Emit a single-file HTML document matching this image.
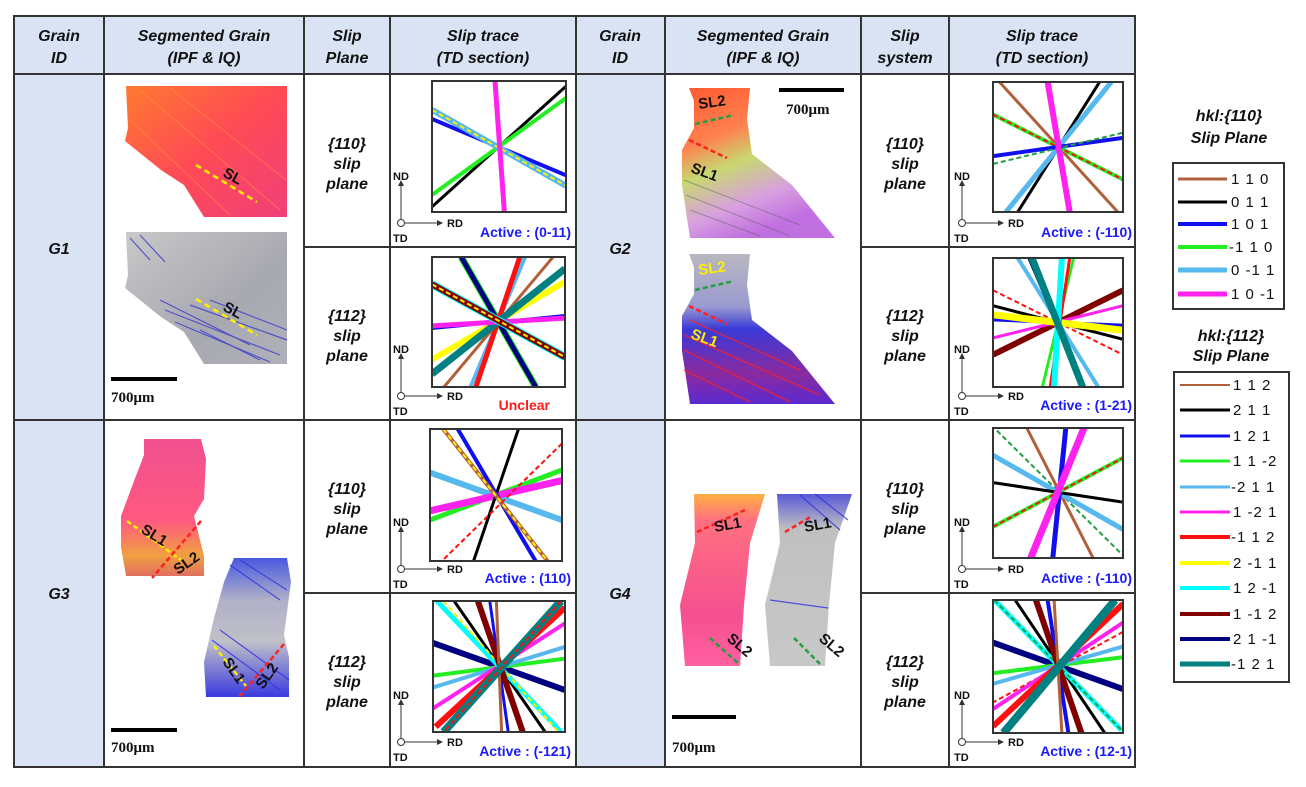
<!DOCTYPE html>
<html><head><meta charset="utf-8"><style>
html,body{margin:0;padding:0;background:#fff;}
svg text{font-family:"Liberation Sans",Arial,sans-serif;}
.h{font-weight:bold;font-style:italic;font-size:16px;text-anchor:middle;fill:#111;}
.p line{vector-effect:non-scaling-stroke;stroke-linecap:butt;}
.ax{font-size:11px;font-weight:bold;fill:#111;}
.act{font-size:14px;font-weight:bold;fill:#1a1aff;}
.lg{font-size:15px;fill:#111;letter-spacing:1px;}
.sb{font-family:"Liberation Serif",serif;font-weight:bold;font-size:15px;fill:#111;}
.sl{font-weight:bold;font-size:15px;fill:#111;}
</style></head><body>
<svg width="1306" height="782" viewBox="0 0 1306 782" xmlns="http://www.w3.org/2000/svg">
<defs>
<linearGradient id="ipf1" x1="0" y1="0" x2="1" y2="1"><stop offset="0" stop-color="#ff7a30"/><stop offset="0.5" stop-color="#ff4a55"/><stop offset="1" stop-color="#f0407a"/></linearGradient>
<linearGradient id="iq1" x1="0" y1="0" x2="1" y2="1"><stop offset="0" stop-color="#c8c8c8"/><stop offset="0.6" stop-color="#a8a8b0"/><stop offset="1" stop-color="#b0b0b8"/></linearGradient>
<linearGradient id="ipf2" x1="0" y1="0" x2="0.4" y2="1"><stop offset="0" stop-color="#ff5a30"/><stop offset="0.35" stop-color="#ff8050"/><stop offset="0.55" stop-color="#c8d870"/><stop offset="0.8" stop-color="#d8a0e0"/><stop offset="1" stop-color="#c070e0"/></linearGradient>
<linearGradient id="iq2" x1="0" y1="0" x2="0" y2="1"><stop offset="0" stop-color="#b8b8c0"/><stop offset="0.35" stop-color="#9a9ad0"/><stop offset="0.5" stop-color="#3a3ad8"/><stop offset="0.8" stop-color="#8a2aa0"/><stop offset="1" stop-color="#5a2ad0"/></linearGradient>
<linearGradient id="ipf3" x1="0" y1="0" x2="0" y2="1"><stop offset="0" stop-color="#f05090"/><stop offset="0.6" stop-color="#ff5a80"/><stop offset="0.85" stop-color="#f0a040"/><stop offset="1" stop-color="#e07060"/></linearGradient>
<linearGradient id="iq3" x1="0" y1="0" x2="0" y2="1"><stop offset="0" stop-color="#4a5ae0"/><stop offset="0.3" stop-color="#b0b0c8"/><stop offset="0.6" stop-color="#c0c0c8"/><stop offset="1" stop-color="#3a3ae0"/></linearGradient>
<linearGradient id="ipf4" x1="0" y1="0" x2="0" y2="1"><stop offset="0" stop-color="#ffb040"/><stop offset="0.15" stop-color="#ff7080"/><stop offset="0.7" stop-color="#f55090"/><stop offset="1" stop-color="#ff60a0"/></linearGradient>
<linearGradient id="iq4" x1="0" y1="0" x2="0" y2="1"><stop offset="0" stop-color="#5a5ad8"/><stop offset="0.2" stop-color="#c0c0c0"/><stop offset="1" stop-color="#c8c8c8"/></linearGradient>
</defs>

<rect x="14" y="16" width="1121" height="58" fill="#dae3f3"/>
<rect x="14" y="74" width="90" height="693" fill="#dae3f3"/>
<rect x="576" y="74" width="89" height="693" fill="#dae3f3"/>

<text class="h" x="59" y="41">Grain</text><text class="h" x="59" y="63">ID</text>
<text class="h" x="204" y="41">Segmented Grain</text><text class="h" x="204" y="63">(IPF &amp; IQ)</text>
<text class="h" x="347" y="41">Slip</text><text class="h" x="347" y="63">Plane</text>
<text class="h" x="483" y="41">Slip trace</text><text class="h" x="483" y="63">(TD section)</text>
<text class="h" x="620" y="41">Grain</text><text class="h" x="620" y="63">ID</text>
<text class="h" x="763" y="41">Segmented Grain</text><text class="h" x="763" y="63">(IPF &amp; IQ)</text>
<text class="h" x="905" y="41">Slip</text><text class="h" x="905" y="63">system</text>
<text class="h" x="1042" y="41">Slip trace</text><text class="h" x="1042" y="63">(TD section)</text>

<text class="h" x="59" y="254">G1</text><text class="h" x="59" y="599">G3</text>
<text class="h" x="620" y="254">G2</text><text class="h" x="620" y="599">G4</text>

<g class="h">
<text x="347" y="149">{110}</text><text x="347" y="169">slip</text><text x="347" y="189">plane</text>
<text x="347" y="321">{112}</text><text x="347" y="341">slip</text><text x="347" y="361">plane</text>
<text x="347" y="494">{110}</text><text x="347" y="514">slip</text><text x="347" y="534">plane</text>
<text x="347" y="667">{112}</text><text x="347" y="687">slip</text><text x="347" y="707">plane</text>
<text x="905" y="149">{110}</text><text x="905" y="169">slip</text><text x="905" y="189">plane</text>
<text x="905" y="321">{112}</text><text x="905" y="341">slip</text><text x="905" y="361">plane</text>
<text x="905" y="494">{110}</text><text x="905" y="514">slip</text><text x="905" y="534">plane</text>
<text x="905" y="667">{112}</text><text x="905" y="687">slip</text><text x="905" y="707">plane</text>
</g>

<g stroke="#333" stroke-width="2" fill="none">
<rect x="14" y="16" width="1121" height="751"/>
<line x1="14" y1="74" x2="1135" y2="74"/>
<line x1="14" y1="420" x2="1135" y2="420"/>
<line x1="104" y1="16" x2="104" y2="767"/>
<line x1="304" y1="16" x2="304" y2="767"/>
<line x1="390" y1="16" x2="390" y2="767"/>
<line x1="576" y1="16" x2="576" y2="767"/>
<line x1="665" y1="16" x2="665" y2="767"/>
<line x1="861" y1="16" x2="861" y2="767"/>
<line x1="949" y1="16" x2="949" y2="767"/>
<line x1="304" y1="247" x2="576" y2="247"/>
<line x1="304" y1="593" x2="576" y2="593"/>
<line x1="861" y1="247" x2="1135" y2="247"/>
<line x1="861" y1="593" x2="1135" y2="593"/>
</g>

<polygon points="126,86 287,86 287,217 204,217 184,185 161,170 125,141 128,128" fill="url(#ipf1)"/>
<g stroke="#ff9a40" stroke-width="1" opacity="0.5"><line x1="140" y1="90" x2="280" y2="210"/><line x1="170" y1="88" x2="286" y2="180"/><line x1="130" y1="120" x2="230" y2="215"/></g>
<polygon points="126,232 287,232 287,364 204,364 184,332 161,317 125,288 128,275" fill="url(#iq1)"/>
<g stroke="#3a3ad0" stroke-width="1.2" opacity="0.8">
<line x1="165" y1="310" x2="280" y2="355"/><line x1="175" y1="322" x2="270" y2="362"/><line x1="190" y1="305" x2="287" y2="340"/><line x1="160" y1="300" x2="250" y2="345"/><line x1="200" y1="330" x2="260" y2="360"/><line x1="130" y1="238" x2="150" y2="260"/><line x1="140" y1="235" x2="165" y2="262"/><line x1="210" y1="300" x2="287" y2="330"/></g>
<line x1="196" y1="165" x2="257" y2="202" stroke="#ffee00" stroke-width="2.5" stroke-dasharray="6,4"/>
<text class="sl" transform="translate(222,176) rotate(28)">SL</text>
<line x1="196" y1="299" x2="257" y2="335" stroke="#ffee00" stroke-width="2.5" stroke-dasharray="6,4"/>
<text class="sl" transform="translate(222,310) rotate(28)">SL</text>
<rect x="111" y="377" width="66" height="4" fill="#000"/>
<text class="sb" x="111" y="402">700μm</text>

<polygon points="144,439 201,439 206,459 204,499 194,516 204,556 204,576 126,576 121,547 121,516 134,481 144,455" fill="url(#ipf3)"/>
<polygon points="234,558 287,558 291,582 284,635 289,657 289,697 206,697 204,662 214,618 224,582" fill="url(#iq3)"/>
<g stroke="#3030e0" stroke-width="1.2" opacity="0.8"><line x1="212" y1="640" x2="280" y2="690"/><line x1="220" y1="630" x2="289" y2="680"/><line x1="230" y1="565" x2="280" y2="600"/><line x1="240" y1="560" x2="287" y2="590"/></g>
<line x1="127" y1="521" x2="181" y2="560" stroke="#ffee00" stroke-width="2.5" stroke-dasharray="5,3"/>
<line x1="201" y1="521" x2="152" y2="578" stroke="#ff2020" stroke-width="2.5" stroke-dasharray="5,3"/>
<text class="sl" transform="translate(140,532) rotate(32)">SL1</text>
<text class="sl" transform="translate(178,575) rotate(-35)">SL2</text>
<line x1="214" y1="646" x2="246" y2="686" stroke="#ffee00" stroke-width="2.5" stroke-dasharray="5,3"/>
<line x1="284" y1="644" x2="239" y2="697" stroke="#ff2020" stroke-width="2.5" stroke-dasharray="5,3"/>
<text class="sl" transform="translate(222,662) rotate(55)">SL1</text>
<text class="sl" transform="translate(263,690) rotate(-55)">SL2</text>
<rect x="111" y="728" width="66" height="4" fill="#000"/>
<text class="sb" x="111" y="752">700μm</text>

<polygon points="689,88 750,88 747,119 752,154 792,185 835,238 690,238 682,185 682,150 694,128 694,101" fill="url(#ipf2)"/>
<g stroke="#60606a" stroke-width="1" opacity="0.5"><line x1="684" y1="180" x2="800" y2="225"/><line x1="686" y1="195" x2="790" y2="236"/><line x1="690" y1="210" x2="760" y2="236"/></g>
<line x1="695" y1="124" x2="734" y2="115" stroke="#22a040" stroke-width="2.5" stroke-dasharray="5,3"/>
<line x1="689" y1="140" x2="727" y2="158" stroke="#ff2020" stroke-width="2.5" stroke-dasharray="5,3"/>
<text class="sl" transform="translate(699,109) rotate(-8)">SL2</text>
<text class="sl" transform="translate(690,172) rotate(20)">SL1</text>
<rect x="779" y="88" width="65" height="4" fill="#000"/>
<text class="sb" x="786" y="114">700μm</text>
<polygon points="689,254 750,254 747,285 752,320 792,351 835,404 690,404 682,351 682,316 694,294 694,267" fill="url(#iq2)"/>
<g stroke="#ff2020" stroke-width="1.3" opacity="0.8"><line x1="684" y1="335" x2="820" y2="395"/><line x1="684" y1="350" x2="790" y2="402"/><line x1="690" y1="320" x2="800" y2="370"/><line x1="684" y1="370" x2="750" y2="402"/></g>
<line x1="695" y1="290" x2="734" y2="281" stroke="#22a040" stroke-width="2.5" stroke-dasharray="5,3"/>
<line x1="689" y1="306" x2="727" y2="324" stroke="#ff2020" stroke-width="2.5" stroke-dasharray="5,3"/>
<text class="sl" style="fill:#ffee00" transform="translate(699,275) rotate(-8)">SL2</text>
<text class="sl" style="fill:#ffee00" transform="translate(690,338) rotate(20)">SL1</text>

<polygon points="694,494 765,494 750,543 744,605 740,666 685,666 680,605 695,543" fill="url(#ipf4)"/>
<polygon points="777,494 852,494 835,543 829,605 825,666 770,666 765,605 780,543" fill="url(#iq4)"/>
<g stroke="#3030e0" stroke-width="1.2" opacity="0.8"><line x1="800" y1="495" x2="840" y2="530"/><line x1="815" y1="494" x2="848" y2="520"/><line x1="770" y1="600" x2="828" y2="608"/></g>
<line x1="697" y1="532" x2="745" y2="510" stroke="#ff2020" stroke-width="2.5" stroke-dasharray="5,3"/>
<line x1="710" y1="638" x2="739" y2="664" stroke="#22a040" stroke-width="2.5" stroke-dasharray="5,3"/>
<text class="sl" transform="translate(715,532) rotate(-10)">SL1</text>
<text class="sl" transform="translate(726,640) rotate(40)">SL2</text>
<line x1="785" y1="532" x2="812" y2="516" stroke="#ff2020" stroke-width="2.5" stroke-dasharray="5,3"/>
<line x1="794" y1="638" x2="820" y2="664" stroke="#22a040" stroke-width="2.5" stroke-dasharray="5,3"/>
<text class="sl" transform="translate(805,532) rotate(-10)">SL1</text>
<text class="sl" transform="translate(818,640) rotate(40)">SL2</text>
<rect x="672" y="715" width="64" height="4" fill="#000"/>
<text class="sb" x="672" y="752">700μm</text>

<g id="axL">
<g fill="#333" stroke="#333">
<line x1="401" y1="219" x2="401" y2="185" stroke-width="1"/><polygon points="398,186 404,186 401,180" stroke="none"/>
<line x1="405" y1="223" x2="438" y2="223" stroke-width="1"/><polygon points="437,220 437,226 443,223" stroke="none"/>
<circle cx="401" cy="223" r="3.5" fill="#fff" stroke-width="1"/>
</g>
<text class="ax" x="393" y="180">ND</text><text class="ax" x="447" y="227">RD</text><text class="ax" x="393" y="242">TD</text>
</g>
<use href="#axL" x="0" y="173"/><use href="#axL" x="0" y="346"/><use href="#axL" x="0" y="519"/>
<use href="#axL" x="561" y="0"/><use href="#axL" x="561" y="173"/><use href="#axL" x="561" y="346"/><use href="#axL" x="561" y="519"/>

<text class="act" x="571" y="237" text-anchor="end">Active : (0-11)</text>
<text class="act" x="550" y="410" text-anchor="end" style="fill:#ff1a1a">Unclear</text>
<text class="act" x="571" y="583" text-anchor="end">Active : (110)</text>
<text class="act" x="571" y="756" text-anchor="end">Active : (-121)</text>
<text class="act" x="1132" y="237" text-anchor="end">Active : (-110)</text>
<text class="act" x="1132" y="410" text-anchor="end">Active : (1-21)</text>
<text class="act" x="1132" y="583" text-anchor="end">Active : (-110)</text>
<text class="act" x="1132" y="756" text-anchor="end">Active : (12-1)</text>

<svg class="p" x="432" y="81" width="134" height="131" viewBox="0 0 100 100" preserveAspectRatio="none">
<line x1="100" y1="4" x2="0" y2="96" stroke="#000" stroke-width="3"/>
<line x1="100" y1="13" x2="0" y2="87" stroke="#22ee22" stroke-width="4"/>
<line x1="0" y1="29" x2="100" y2="72" stroke="#1010ee" stroke-width="4"/>
<line x1="0" y1="22" x2="100" y2="80" stroke="#55b8ee" stroke-width="6"/>
<line x1="0" y1="22" x2="100" y2="80" stroke="#ffee00" stroke-width="2" stroke-dasharray="5,3"/>
<line x1="47" y1="0" x2="54" y2="100" stroke="#ff22ee" stroke-width="5"/>
</svg>
<svg class="p" x="432" y="257" width="133" height="130" viewBox="0 0 100 100" preserveAspectRatio="none">
<line x1="22" y1="0" x2="78" y2="100" stroke="#22ee22" stroke-width="7"/>
<line x1="22" y1="0" x2="78" y2="100" stroke="#000080" stroke-width="5"/>
<line x1="70" y1="0" x2="29" y2="100" stroke="#55b8ee" stroke-width="4"/>
<line x1="66" y1="0" x2="33" y2="100" stroke="#ff1010" stroke-width="5"/>
<line x1="91" y1="0" x2="9" y2="100" stroke="#b0603a" stroke-width="3"/>
<line x1="100" y1="19" x2="0" y2="79" stroke="#ffff00" stroke-width="6"/>
<line x1="100" y1="9" x2="0" y2="90" stroke="#008080" stroke-width="7"/>
<line x1="100" y1="45" x2="0" y2="55" stroke="#1010ee" stroke-width="3"/>
<line x1="100" y1="47" x2="0" y2="53" stroke="#ff22ee" stroke-width="5"/>
<line x1="0" y1="21" x2="100" y2="77" stroke="#00ffff" stroke-width="8"/>
<line x1="0" y1="21" x2="100" y2="77" stroke="#800000" stroke-width="6"/>
<line x1="0" y1="21" x2="100" y2="77" stroke="#ffee00" stroke-width="2" stroke-dasharray="5,3"/>
</svg>
<svg class="p" x="430" y="429" width="132" height="132" viewBox="0 0 100 100" preserveAspectRatio="none">
<line x1="0" y1="33" x2="100" y2="69" stroke="#55b8ee" stroke-width="6"/>
<line x1="100" y1="31" x2="0" y2="69" stroke="#22ee22" stroke-width="5"/>
<line x1="100" y1="39" x2="0" y2="62" stroke="#ff22ee" stroke-width="7"/>
<line x1="67" y1="0" x2="33" y2="100" stroke="#000" stroke-width="3"/>
<line x1="21" y1="0" x2="80" y2="100" stroke="#1010ee" stroke-width="4"/>
<line x1="10" y1="0" x2="89" y2="100" stroke="#b0603a" stroke-width="4"/>
<line x1="10" y1="0" x2="89" y2="100" stroke="#ffee00" stroke-width="2" stroke-dasharray="5,3"/>
<line x1="100" y1="11" x2="9" y2="100" stroke="#ff1010" stroke-width="2" stroke-dasharray="5,3"/>
</svg>
<svg class="p" x="433" y="601" width="132" height="131" viewBox="0 0 100 100" preserveAspectRatio="none">
<line x1="0" y1="32" x2="100" y2="68" stroke="#000080" stroke-width="6"/>
<line x1="100" y1="44" x2="0" y2="57" stroke="#22ee22" stroke-width="4"/>
<line x1="100" y1="35" x2="0" y2="66" stroke="#55b8ee" stroke-width="4"/>
<line x1="100" y1="17" x2="0" y2="82" stroke="#ff22ee" stroke-width="4"/>
<line x1="100" y1="5" x2="2" y2="96" stroke="#ff1010" stroke-width="6"/>
<line x1="16" y1="0" x2="85" y2="100" stroke="#000" stroke-width="3"/>
<line x1="3" y1="0" x2="97" y2="100" stroke="#00ffff" stroke-width="5"/>
<line x1="8" y1="0" x2="95" y2="100" stroke="#ffee00" stroke-width="2" stroke-dasharray="5,3"/>
<line x1="43" y1="0" x2="57" y2="100" stroke="#1010ee" stroke-width="3"/>
<line x1="34" y1="0" x2="68" y2="100" stroke="#800000" stroke-width="6"/>
<line x1="48" y1="0" x2="52" y2="100" stroke="#b0603a" stroke-width="3"/>
<line x1="97" y1="0" x2="8" y2="100" stroke="#008080" stroke-width="8"/>
<line x1="97" y1="0" x2="8" y2="100" stroke="#ff1010" stroke-width="2" stroke-dasharray="5,3"/>
</svg>
<svg class="p" x="993" y="82" width="130" height="130" viewBox="0 0 100 100" preserveAspectRatio="none">
<line x1="5" y1="0" x2="96" y2="100" stroke="#b0603a" stroke-width="3"/>
<line x1="82" y1="0" x2="19" y2="100" stroke="#000" stroke-width="3"/>
<line x1="91" y1="0" x2="10" y2="100" stroke="#55b8ee" stroke-width="5"/>
<line x1="0" y1="25" x2="100" y2="75" stroke="#22ee22" stroke-width="4"/>
<line x1="0" y1="25" x2="100" y2="75" stroke="#ff1010" stroke-width="2" stroke-dasharray="5,3"/>
<line x1="0" y1="57" x2="100" y2="43" stroke="#1010ee" stroke-width="4"/>
<line x1="0" y1="63" x2="100" y2="39" stroke="#22a040" stroke-width="2" stroke-dasharray="5,3"/>
<line x1="42" y1="0" x2="59" y2="100" stroke="#ff22ee" stroke-width="6"/>
</svg>
<svg class="p" x="993" y="258" width="130" height="129" viewBox="0 0 100 100" preserveAspectRatio="none">
<line x1="0" y1="25" x2="100" y2="75" stroke="#ff1010" stroke-width="2" stroke-dasharray="5,3"/>
<line x1="0" y1="37" x2="100" y2="63" stroke="#000" stroke-width="3"/>
<line x1="100" y1="25" x2="0" y2="75" stroke="#800000" stroke-width="6"/>
<line x1="100" y1="37" x2="0" y2="62" stroke="#ff22ee" stroke-width="3"/>
<line x1="0" y1="48" x2="100" y2="52" stroke="#1010ee" stroke-width="3"/>
<line x1="0" y1="44" x2="100" y2="56" stroke="#ffff00" stroke-width="7"/>
<line x1="62" y1="0" x2="38" y2="100" stroke="#22ee22" stroke-width="3"/>
<line x1="59" y1="0" x2="44" y2="100" stroke="#ff1010" stroke-width="3"/>
<line x1="19" y1="0" x2="81" y2="100" stroke="#55b8ee" stroke-width="4"/>
<line x1="28" y1="0" x2="70" y2="100" stroke="#000080" stroke-width="4"/>
<line x1="53" y1="0" x2="47" y2="100" stroke="#00ffff" stroke-width="6"/>
<line x1="30" y1="0" x2="69" y2="100" stroke="#008080" stroke-width="7"/>
</svg>
<svg class="p" x="993" y="428" width="130" height="130" viewBox="0 0 100 100" preserveAspectRatio="none">
<line x1="26" y1="0" x2="77" y2="100" stroke="#b0603a" stroke-width="3"/>
<line x1="3" y1="2" x2="100" y2="98" stroke="#22a040" stroke-width="2" stroke-dasharray="5,3"/>
<line x1="0" y1="21" x2="100" y2="78" stroke="#55b8ee" stroke-width="5"/>
<line x1="0" y1="42" x2="100" y2="57" stroke="#000" stroke-width="3"/>
<line x1="0" y1="76" x2="100" y2="23" stroke="#22ee22" stroke-width="4"/>
<line x1="0" y1="76" x2="100" y2="23" stroke="#ff1010" stroke-width="2" stroke-dasharray="5,3"/>
<line x1="56" y1="0" x2="46" y2="100" stroke="#1010ee" stroke-width="5"/>
<line x1="70" y1="0" x2="29" y2="100" stroke="#ff22ee" stroke-width="7"/>
</svg>
<svg class="p" x="993" y="600" width="130" height="133" viewBox="0 0 100 100" preserveAspectRatio="none">
<line x1="0" y1="32" x2="100" y2="67" stroke="#000080" stroke-width="6"/>
<line x1="100" y1="43" x2="0" y2="55" stroke="#22ee22" stroke-width="4"/>
<line x1="100" y1="35" x2="0" y2="63" stroke="#55b8ee" stroke-width="4"/>
<line x1="100" y1="24" x2="0" y2="77" stroke="#ff1010" stroke-width="2" stroke-dasharray="5,3"/>
<line x1="100" y1="17" x2="0" y2="82" stroke="#ff22ee" stroke-width="4"/>
<line x1="100" y1="3" x2="0" y2="95" stroke="#ff1010" stroke-width="6"/>
<line x1="17" y1="0" x2="86" y2="100" stroke="#000" stroke-width="3"/>
<line x1="1" y1="0" x2="99" y2="98" stroke="#00ffff" stroke-width="5"/>
<line x1="1" y1="0" x2="99" y2="98" stroke="#22a040" stroke-width="2" stroke-dasharray="5,3"/>
<line x1="42" y1="0" x2="58" y2="100" stroke="#1010ee" stroke-width="4"/>
<line x1="33" y1="0" x2="68" y2="100" stroke="#800000" stroke-width="6"/>
<line x1="47" y1="0" x2="53" y2="100" stroke="#b0603a" stroke-width="3"/>
<line x1="94" y1="0" x2="8" y2="100" stroke="#008080" stroke-width="8"/>
</svg>
<g fill="none" stroke="#333" stroke-width="2">
<rect x="432" y="81" width="134" height="131"/>
<rect x="432" y="257" width="133" height="130"/>
<rect x="430" y="429" width="132" height="132"/>
<rect x="433" y="601" width="132" height="131"/>
<rect x="993" y="82" width="130" height="130"/>
<rect x="993" y="258" width="130" height="129"/>
<rect x="993" y="428" width="130" height="130"/>
<rect x="993" y="600" width="130" height="133"/>
</g>

<text class="h" x="1229" y="121">hkl:{110}</text>
<text class="h" x="1229" y="143">Slip Plane</text>
<rect x="1173" y="163" width="111" height="146" fill="#fff" stroke="#333" stroke-width="2"/>
<g stroke-width="3">
<line x1="1178" y1="179" x2="1227" y2="179" stroke="#b0603a"/>
<line x1="1178" y1="202" x2="1227" y2="202" stroke="#000"/>
<line x1="1178" y1="224" x2="1227" y2="224" stroke="#1010ee" stroke-width="4"/>
<line x1="1178" y1="247" x2="1227" y2="247" stroke="#22ee22" stroke-width="4"/>
<line x1="1178" y1="270" x2="1227" y2="270" stroke="#55b8ee" stroke-width="5"/>
<line x1="1178" y1="294" x2="1227" y2="294" stroke="#ff22ee" stroke-width="5"/>
</g>
<g class="lg">
<text x="1231" y="184">1 1 0</text><text x="1231" y="207">0 1 1</text><text x="1231" y="229">1 0 1</text>
<text x="1229" y="252">-1 1 0</text><text x="1231" y="275">0 -1 1</text><text x="1231" y="299">1 0 -1</text>
</g>
<text class="h" x="1231" y="341">hkl:{112}</text>
<text class="h" x="1231" y="361">Slip Plane</text>
<rect x="1174" y="372" width="115" height="310" fill="#fff" stroke="#333" stroke-width="2"/>
<g stroke-width="3">
<line x1="1180" y1="385" x2="1230" y2="385" stroke="#b0603a" stroke-width="2"/>
<line x1="1180" y1="410" x2="1230" y2="410" stroke="#000"/>
<line x1="1180" y1="436" x2="1230" y2="436" stroke="#1010ee"/>
<line x1="1180" y1="461" x2="1230" y2="461" stroke="#22ee22"/>
<line x1="1180" y1="487" x2="1230" y2="487" stroke="#55b8ee"/>
<line x1="1180" y1="512" x2="1230" y2="512" stroke="#ff22ee"/>
<line x1="1180" y1="537" x2="1230" y2="537" stroke="#ff1010" stroke-width="4"/>
<line x1="1180" y1="563" x2="1230" y2="563" stroke="#ffff00" stroke-width="4"/>
<line x1="1180" y1="588" x2="1230" y2="588" stroke="#00ffff" stroke-width="4"/>
<line x1="1180" y1="614" x2="1230" y2="614" stroke="#800000" stroke-width="4"/>
<line x1="1180" y1="639" x2="1230" y2="639" stroke="#000080" stroke-width="4"/>
<line x1="1180" y1="664" x2="1230" y2="664" stroke="#008080" stroke-width="5"/>
</g>
<g class="lg">
<text x="1233" y="390">1 1 2</text><text x="1233" y="415">2 1 1</text><text x="1233" y="441">1 2 1</text>
<text x="1233" y="466">1 1 -2</text><text x="1231" y="492">-2 1 1</text><text x="1233" y="517">1 -2 1</text>
<text x="1231" y="542">-1 1 2</text><text x="1233" y="568">2 -1 1</text><text x="1233" y="593">1 2 -1</text>
<text x="1233" y="619">1 -1 2</text><text x="1233" y="644">2 1 -1</text><text x="1231" y="669">-1 2 1</text>
</g>
</svg>
</body></html>
